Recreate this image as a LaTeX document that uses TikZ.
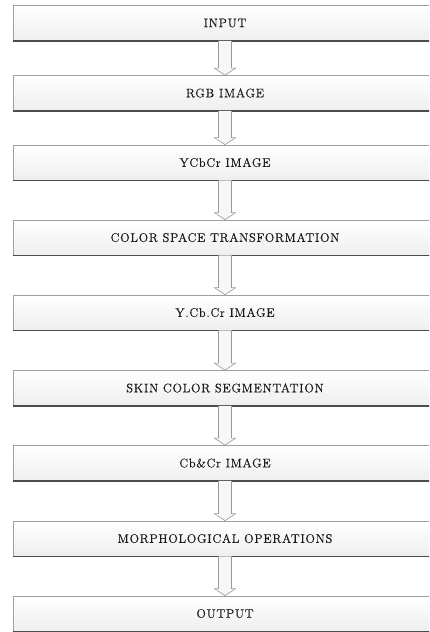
\documentclass[tikz,border=0pt]{standalone}
\usepackage{fontspec}
\setmainfont{Latin Modern Roman}[LetterSpace=6,FakeBold=0.4]
\usetikzlibrary{calc}
\tikzset{
  stepbox/.style={rectangle, draw=gray!75, line width=0.7pt,
    top color=white, bottom color=gray!13,
    minimum width=424pt, minimum height=35pt, inner sep=0pt,
    text=black!90, font=\fontsize{12.4}{14}\selectfont},
  boxbottom/.style={draw=black!70, line width=1.3pt},
  blockarrow/.style={draw=gray!80, line width=0.6pt, fill=gray!6, line join=miter},
}
\newcommand{\flowarrow}[2]{%
  \path let \p1=(#1.south), \p2=(#2.north) in
    [blockarrow] (\x1-6.5pt,\y1) -- (\x1-6.5pt,\y2+7pt) -- (\x1-10.5pt,\y2+7pt)
    -- (\x1,\y2) -- (\x1+10.5pt,\y2+7pt) -- (\x1+6.5pt,\y2+7pt) -- (\x1+6.5pt,\y1);%
}
\begin{document}
\begin{tikzpicture}[x=1pt,y=-1pt]
\useasboundingbox (0,0) rectangle (429,632);
\clip (0,0) rectangle (429,632);
\node[stepbox] (n1) at (225,23)    {INPUT};
\node[stepbox] (n2) at (225,93)    {RGB IMAGE};
\node[stepbox] (n3) at (225,162.5) {YCbCr IMAGE};
\node[stepbox] (n4) at (225,237.5) {COLOR SPACE TRANSFORMATION};
\node[stepbox] (n5) at (225,312.5) {Y.Cb.Cr IMAGE};
\node[stepbox] (n6) at (225,388)   {SKIN COLOR SEGMENTATION};
\node[stepbox] (n7) at (225,463)   {Cb\&Cr IMAGE};
\node[stepbox] (n8) at (225,538.5) {MORPHOLOGICAL OPERATIONS};
\node[stepbox] (n9) at (225,613.5) {OUTPUT};
\foreach \n in {n1,n2,n3,n4,n5,n6,n7,n8,n9}{
  \draw[boxbottom] (\n.south west) -- (\n.south east);
}
\flowarrow{n1}{n2}
\flowarrow{n2}{n3}
\flowarrow{n3}{n4}
\flowarrow{n4}{n5}
\flowarrow{n5}{n6}
\flowarrow{n6}{n7}
\flowarrow{n7}{n8}
\flowarrow{n8}{n9}
\end{tikzpicture}
\end{document}
